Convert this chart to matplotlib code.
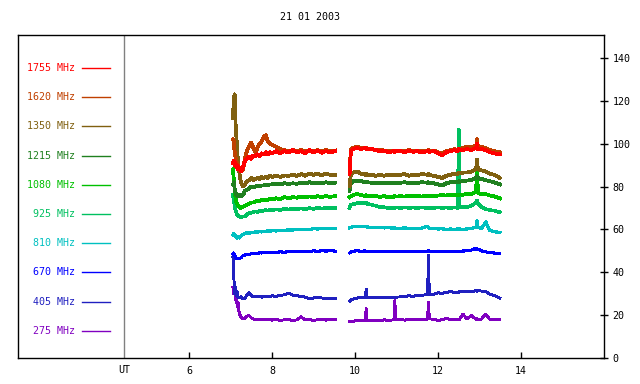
import matplotlib
matplotlib.use("Agg")
import matplotlib.pyplot as plt

# time (UT hours) of the two observing stretches
t1 = [7.06, 7.08, 7.10, 7.12, 7.14, 7.16, 7.18, 7.21, 7.25, 7.30, 7.35, 7.40, 7.45,
      7.50, 7.55, 7.60, 7.65, 7.70, 7.75, 7.80, 7.85, 7.90, 7.95, 8.0, 8.1, 8.2,
      8.3, 8.4, 8.5, 8.6, 8.7, 8.8, 8.9, 9.0, 9.1, 9.2, 9.3, 9.4, 9.52]
t2 = [9.87, 9.9, 9.95, 10.05, 10.15, 10.25, 10.27, 10.29, 10.4, 10.5, 10.6, 10.7,
      10.8, 10.94, 10.96, 10.98, 11.1, 11.2, 11.3, 11.4, 11.5, 11.6, 11.75, 11.77,
      11.79, 11.9, 12.0, 12.1, 12.2, 12.3, 12.4, 12.48, 12.5, 12.52, 12.6, 12.7,
      12.8, 12.92, 12.94, 12.96, 13.05, 13.15, 13.25, 13.35, 13.49]

labels = ["1755 MHz", "1620 MHz", "1350 MHz", "1215 MHz", "1080 MHz",
          "925 MHz", "810 MHz", "670 MHz", "405 MHz", "275 MHz"]
colors = ["#ff0000", "#c04000", "#806010", "#208020", "#00c000",
          "#00c060", "#00c0c0", "#0000ff", "#2020c0", "#8000c0"]
widths = [2.0, 2.0, 2.0, 2.0, 2.0, 1.9, 1.6, 1.5, 1.4, 1.4]

f1755_a = [91, 92, 90, 91, 89, 90, 88, 89, 87, 89, 92, 93, 94, 93, 94.5, 94, 95, 94,
           95.5, 95, 96, 95, 96, 95.5, 96.5, 95.5, 96.5, 96, 97, 96, 96.5, 95.5, 97,
           96, 96.8, 95.8, 96.5, 96, 96.5]
f1755_b = [86, 96.5, 97.5, 98, 97.5, 98, 97.5, 97.8, 97.5, 97, 96.5, 96.8, 96, 96.5,
           96, 96.5, 96.5, 96, 96.8, 96.2, 96.5, 96, 96.5, 96.8, 96.2, 96.5, 95.5,
           94.5, 96, 96.5, 97, 96.5, 97.5, 96.8, 97, 97.5, 97, 98, 100, 97.5, 97.5,
           97, 96, 95.5, 95]
f1620_a = [102, 101, 96, 94, 92, 91, 90, 88, 87, 88, 93, 97, 99, 100.5, 98, 96, 98,
           100, 101, 103, 104, 101, 100, 99.5, 98.5, 97.5, 97, 96.5, 97, 96.5, 97,
           96.5, 97, 96.5, 97, 96.5, 97, 96.5, 96.8]
f1620_b = [88, 97, 98, 98.5, 98, 97.8, 98, 97.5, 97.5, 97, 97.2, 96.8, 96.5, 96.8,
           96.5, 96.8, 96.8, 96.5, 97, 96.5, 96.8, 96.5, 96.8, 97, 96.5, 96.8, 96,
           95.5, 96.5, 97, 97.5, 97, 97.5, 97.2, 98, 98.5, 98.5, 99, 102, 98.5, 98.5,
           98, 97, 96.5, 96]
f1350_a = [112, 121, 123, 110, 104, 97, 92, 87, 82, 80, 81, 82.5, 83, 84, 83, 83.5,
           84, 83.5, 84.5, 84, 84.5, 84, 85, 84.5, 85, 84.5, 85.2, 85, 85.5, 85, 85.8,
           85, 86, 85.5, 86, 85.3, 86, 85.5, 85.5]
f1350_b = [80, 86, 86.5, 87, 86, 85.5, 86, 85.5, 85.5, 85, 85.5, 85, 85.5, 85.3,
           85.6, 85.3, 85.5, 85.8, 85, 85.5, 85.2, 85.8, 85.5, 85.8, 85.4, 85, 84.5,
           84, 85, 85.5, 86, 86, 86.5, 86, 86.5, 86.5, 87, 88, 92.5, 88, 87.5, 87,
           86, 85.5, 84]
f1215_a = [81, 82, 79, 77, 76, 76.5, 75.5, 76, 75.5, 76, 78, 78.5, 79, 80, 79.5, 80,
           80.5, 80, 80.5, 80.5, 81, 80.5, 81, 81, 81.2, 81, 81.5, 81.2, 81.5, 81.3,
           81.8, 81.4, 82, 81.5, 81.8, 81.6, 82, 81.5, 81.8]
f1215_b = [78, 81.5, 82.5, 82.8, 82.5, 82, 82.3, 82, 81.8, 81.5, 81.8, 81.5, 81.8,
           81.6, 81.9, 81.6, 81.8, 82, 81.5, 81.8, 81.6, 82, 81.8, 82, 81.7, 81.5,
           81, 80.5, 81.5, 82, 82.3, 82.2, 82.5, 82.2, 82.5, 82.8, 83, 84, 85, 84,
           83.5, 83, 82.5, 82, 81]
f1080_a = [88, 83, 79, 75, 73, 72, 71, 70.5, 70, 70.5, 71, 71.5, 72, 72.5, 72.5, 73,
           73.5, 73.2, 73.8, 73.5, 74, 73.8, 74.3, 74, 74.5, 74.2, 75, 74.6, 75, 74.8,
           75.3, 74.9, 75.4, 75, 75.5, 75.1, 75.5, 75.2, 75.5]
f1080_b = [75, 75.5, 76, 76.5, 76, 75.5, 76, 75.5, 75.8, 75.5, 75.2, 75.5, 75, 75.3,
           75.6, 75.3, 75.5, 75.3, 75.8, 75.4, 75.6, 75.3, 75.8, 75.5, 75.8, 75.5,
           75.8, 76, 75.8, 76.2, 76, 76.3, 76, 76.3, 76.2, 76.5, 76.5, 77.5, 91, 77,
           76.5, 76.5, 75.8, 75.5, 74.5]
f925_a = [76, 74, 71, 69, 68, 67, 66.5, 66, 65.5, 66, 66, 67, 67.5, 67.8, 68, 68.4,
          68.2, 68.6, 68.5, 68.8, 69, 68.8, 69.2, 69, 69.3, 69.1, 69.5, 69.3, 69.6,
          69.4, 69.8, 69.5, 69.9, 69.6, 70, 69.7, 70, 69.8, 70]
f925_b = [70, 71.5, 71.8, 72.2, 72.5, 72.2, 72.5, 72, 71.5, 71, 70.5, 70.3, 70, 70.2,
          70, 70.3, 70, 70.3, 70, 70.2, 70, 70.3, 70, 70.2, 70, 70, 70.3, 70, 70.2,
          70, 70.3, 70, 106.5, 70.2, 70.5, 70.5, 71, 72.5, 73.5, 72, 70.5, 69.5, 69,
          68.8, 68]
f810_a = [57.5, 58, 57, 56.5, 57, 56, 56.5, 56, 57, 57.5, 58, 58.5, 58.2, 58.6, 58.4,
          58.8, 58.7, 59, 58.8, 59.2, 59, 59.3, 59.2, 59.4, 59.3, 59.6, 59.5, 59.8,
          59.7, 60, 59.8, 60.1, 60, 60.3, 60.2, 60.4, 60.3, 60.5, 60.4]
f810_b = [60.8, 61, 61.3, 61.5, 61.2, 61.2, 61.5, 61.1, 61, 60.8, 61, 60.7, 60.8,
          60.6, 60.8, 60.6, 60.5, 60.7, 60.4, 60.5, 60.3, 60.5, 61.5, 60.8, 60.3,
          60.4, 60.2, 60.3, 60, 60.2, 60, 60.2, 60, 60.2, 60, 60.2, 60.5, 61, 64, 61,
          60.5, 63.5, 59.5, 59, 58.5]
f670_a = [48.5, 49, 48, 47, 46.5, 46.3, 46.5, 46.3, 46.8, 47.8, 48, 48.5, 48.3, 48.7,
          48.6, 48.9, 48.8, 49.1, 49, 49.2, 49.1, 49.3, 49.2, 49.4, 49.3, 49.5, 49.4,
          49.6, 49.5, 49.8, 49.6, 49.9, 49.7, 50, 49.8, 50, 49.9, 50, 49.9]
f670_b = [49, 49.5, 49.8, 50, 49.8, 50, 49.6, 49.9, 49.7, 49.5, 49.8, 49.6, 49.9,
          49.7, 49.9, 49.6, 49.8, 49.6, 49.9, 49.7, 49.8, 49.6, 49.8, 50.2, 49.7,
          49.5, 49.8, 49.6, 49.8, 49.7, 49.9, 49.7, 49.9, 49.8, 49.9, 50, 50.3, 51.3,
          50.5, 50.8, 50, 49.5, 49.2, 49, 48.7]
f405_a = [47, 38, 30, 33, 29, 31, 28.5, 28, 28.5, 27.6, 28, 29.5, 30.5, 29.2, 28.6,
          28.8, 28.5, 28.7, 28.4, 28.6, 28.5, 28.8, 28.6, 29, 28.8, 29.2, 29.5, 30.2,
          29.3, 29, 28.8, 28.4, 27.6, 28, 28.3, 28, 27.8, 27.6, 27.7]
f405_b = [26.5, 27, 27.5, 28, 28.2, 28, 32, 28, 28.2, 28, 28.1, 28.3, 28.2, 28.3,
          28.1, 28.4, 28.5, 28.8, 29, 28.8, 29.2, 29.3, 29.5, 47.8, 29.5, 29.8, 30.4,
          30.2, 30.6, 31, 30.5, 30.8, 30.6, 31, 30.8, 31.2, 31, 31.4, 31, 31.6, 31.2,
          31, 29.8, 29.2, 28]
f275_a = [33, 30, 34, 27, 31, 24, 26, 21, 19, 18.3, 18.5, 19.5, 19.8, 18.8, 18.2,
          17.9, 18, 17.8, 18, 17.9, 17.8, 18.1, 17.9, 17.7, 17.9, 17.6, 17.8, 17.9,
          17.5, 17.8, 19.2, 17.8, 17.9, 17.6, 17.8, 17.9, 17.7, 17.9, 17.8]
f275_b = [17, 17.2, 17.1, 17.5, 17.3, 17.4, 23, 17.4, 17.5, 17.6, 17.4, 17.8, 17.6,
          17.8, 26.7, 17.8, 17.9, 17.7, 18, 17.8, 18.1, 17.9, 18.2, 26, 18.3, 18,
          17.6, 17.8, 18.5, 18, 17.9, 18, 17.8, 18.1, 20.5, 18.2, 19.8, 18.1, 18.3,
          18, 18.2, 20.5, 18, 17.8, 17.8]

seg_a = [f1755_a, f1620_a, f1350_a, f1215_a, f1080_a, f925_a, f810_a, f670_a, f405_a, f275_a]
seg_b = [f1755_b, f1620_b, f1350_b, f1215_b, f1080_b, f925_b, f810_b, f670_b, f405_b, f275_b]

mono = "DejaVu Sans Mono"
fig = plt.figure(figsize=(6.4, 3.84), dpi=100)
ax = fig.add_axes([18 / 640, 26 / 384, 586 / 640, 323 / 384])

# draw low frequencies first so red ends on top
for i in range(len(labels) - 1, -1, -1):
    ax.plot(t1, seg_a[i], color=colors[i], lw=widths[i], antialiased=False)
    ax.plot(t2, seg_b[i], color=colors[i], lw=widths[i], antialiased=False)

ax.set_xlim(1.88, 16.0)
ax.set_ylim(0, 150.7)
ax.axvline(4.43, color="#808080", lw=1)

ax.set_xticks([6, 8, 10, 12, 14])
ax.set_xticklabels(["6", "8", "10", "12", "14"], family=mono, fontsize=7.2)
ax.yaxis.tick_right()
ax.set_yticks(range(0, 141, 20))
ax.set_yticklabels([str(v) for v in range(0, 141, 20)], family=mono, fontsize=7.2)
ax.tick_params(axis="x", direction="in", length=4, width=1, pad=6)
ax.tick_params(axis="y", direction="inout", length=6, width=1, pad=3)
for s in ax.spines.values():
    s.set_linewidth(1)

ax.text(4.43, -3.2, "UT", family=mono, fontsize=7.2, ha="center", va="top")

# legend inside the left panel
for i, lab in enumerate(labels):
    yf = (358 - (68 + i * 29.2)) / 323
    ax.text((75 - 18) / 586, yf, lab, transform=ax.transAxes, family=mono,
            fontsize=7.2, color=colors[i], ha="right", va="center")
    ax.plot([(82 - 18) / 586, (110 - 18) / 586], [yf, yf], transform=ax.transAxes,
            color=colors[i], lw=1)

fig.text(310 / 640, 1 - 17 / 384, "21 01 2003", family=mono, fontsize=7.2,
         ha="center", va="center")

fig.savefig("out.png", dpi=100)
